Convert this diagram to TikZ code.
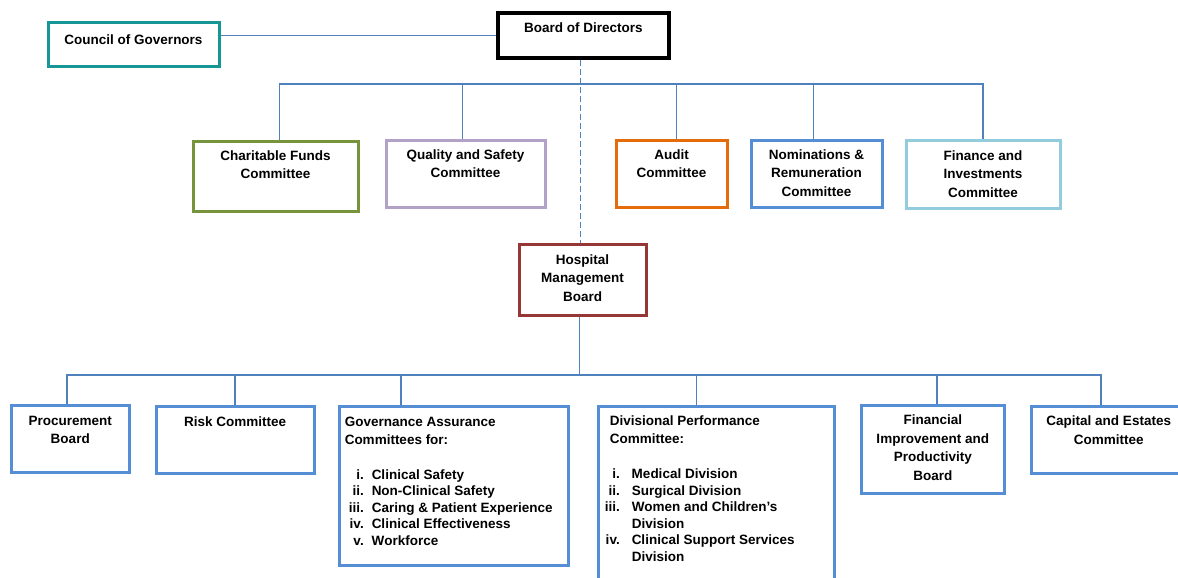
\documentclass[tikz,border=0pt]{standalone}
\usepackage{fontspec}
\setmainfont{Liberation Sans}
\usepackage{tikz}
\usetikzlibrary{calc}
\definecolor{org-teal}{RGB}{23, 150, 150}
\definecolor{org-green}{RGB}{119, 147, 60}
\definecolor{org-lilac}{RGB}{179, 162, 199}
\definecolor{org-orange}{RGB}{228, 108, 10}
\definecolor{org-blue}{RGB}{85, 142, 213}
\definecolor{org-line}{RGB}{79, 129, 189}
\definecolor{org-aqua}{RGB}{147, 205, 221}
\definecolor{org-red}{RGB}{149, 55, 53}
\newcommand{\boxtext}[4]{\parbox[c][#2][t]{#1}{\vspace*{#3}#4}}
\newcommand{\numitem}[4]{\makebox[#1][r]{#2}\hspace{#3}#4}

\begin{document}
\begin{tikzpicture}[x = 1pt, y = -1pt,
    orgbox/.style = {draw, inner sep = 0pt, anchor = north west,
      font = \bfseries\fontsize{13.5}{18.5}\selectfont},
    upper/.style = {orgbox, line width = 3pt},
    lower/.style = {orgbox, draw = org-blue, line width = 3.5pt},
    link/.style = {org-line, line width = 1.7pt}]
          \useasboundingbox (0, 0) rectangle (1178, 578);
          \clip (0, 0) rectangle (1178, 578);

          \coordinate (top-bus) at (0, 84);
          \coordinate (low-bus) at (0, 375);

          \node[upper, draw = org-teal] (cog) at (46.5, 21.5)
            {\boxtext{171pt}{44pt}{11.7pt}{\centering Council of Governors}};
          \node[orgbox, draw = black, line width = 4pt] (bod) at (496, 11)
            {\boxtext{171pt}{45pt}{10.2pt}{\centering Board of Directors}};

          \node[upper, draw = org-green] (cfc) at (191.5, 139.5)
            {\boxtext{165pt}{70pt}{9.7pt}{\centering Charitable Funds\\ Committee}};
          \node[upper, draw = org-lilac] (qsc) at (384.5, 138.5)
            {\boxtext{159pt}{67pt}{9.7pt}{\centering Quality and Safety\\ Committee}};
          \node[upper, draw = org-orange] (aud) at (614.5, 138.5)
            {\boxtext{111pt}{67pt}{9.7pt}{\centering Audit\\ Committee}};
          \node[upper, draw = org-blue] (nrc) at (749.5, 138.5)
            {\boxtext{131pt}{67pt}{9.7pt}{\centering Nominations \&\\ Remuneration\\ Committee}};
          \node[upper, draw = org-aqua] (fic) at (904.5, 138.5)
            {\boxtext{154pt}{68pt}{10.7pt}{\centering Finance and\\ Investments\\ Committee}};

          \node[upper, draw = org-red] (hmb) at (517.5, 242.5)
            {\boxtext{127pt}{71pt}{10.7pt}{\centering Hospital\\ Management\\ Board}};

          \node[lower] (pb) at (9.5, 403.5)
            {\boxtext{118pt}{67pt}{10.7pt}{\centering Procurement\\ Board}};
          \node[lower] (rc) at (154.5, 404.5)
            {\boxtext{158pt}{67pt}{10.7pt}{\centering Risk Committee}};
          \node[lower] (gac) at (337.5, 404.5)
            {\boxtext{229pt}{159pt}{10.7pt}{\raggedright\leftskip = 5.5pt
              \baselineskip = 16.5pt
              Governance Assurance\\[1.5pt]
              Committees for:\\[18.5pt]
              \numitem{19pt}{i.}{8pt}{Clinical Safety}\\
              \numitem{19pt}{ii.}{8pt}{Non-Clinical Safety}\\
              \numitem{19pt}{iii.}{8pt}{Caring \& Patient Experience}\\
              \numitem{19pt}{iv.}{8pt}{Clinical Effectiveness}\\
              \numitem{19pt}{v.}{8pt}{Workforce}\par}};
          \node[lower] (dpc) at (596.5, 404.5)
            {\boxtext{236pt}{186pt}{9.7pt}{\raggedright\leftskip = 11.5pt
              \baselineskip = 16.5pt
              Divisional Performance\\[1.5pt]
              Committee:\\[18.5pt]
              \numitem{10pt}{i.}{12pt}{Medical Division}\\
              \numitem{10pt}{ii.}{12pt}{Surgical Division}\\
              \numitem{10pt}{iii.}{12pt}{Women and Children’s}\\
              \hspace*{22pt}Division\\
              \numitem{10pt}{iv.}{12pt}{Clinical Support Services}\\
              \hspace*{22pt}Division\par}};
          \node[lower] (fip) at (859.5, 403.5)
            {\boxtext{143pt}{88pt}{9.7pt}{\centering Financial\\ Improvement and\\ Productivity\\ Board}};
          \node[lower] (cec) at (1029.5, 404.5)
            {\boxtext{155pt}{67pt}{9.7pt}{\centering Capital and Estates\\ Committee}};

          \coordinate (cfc-top) at ($(cfc.north) + (4, 0)$);
          \coordinate (qsc-top) at ($(qsc.north) + (-3, 0)$);
          \coordinate (aud-top) at ($(aud.north) + (5, 0)$);
          \coordinate (nrc-top) at ($(nrc.north) + (-3, 0)$);
          \coordinate (bod-top) at ($(bod.south) + (-3, 0)$);
          \coordinate (hmb-top) at (bod-top |- hmb.north);
          \coordinate (hmb-low) at ($(hmb.south) + (-3, 0)$);
          \coordinate (pb-top) at ($(pb.north) + (-3, 0)$);
          \coordinate (gac-top) at ($(gac.north west) + (63.5, 0)$);
          \coordinate (dpc-top) at ($(dpc.north west) + (100, 0)$);
          \coordinate (fip-top) at ($(fip.north) + (4, 0)$);
          \coordinate (cec-top) at ($(cec.north west) + (71.5, 0)$);

          \draw[link] (cog.east |- bod.west) -- (bod.west);
          \draw[link, dash pattern = on 6pt off 3pt] (bod-top) -- (hmb-top);

          \draw[link] (cfc-top) |- (fic.north |- top-bus) -- (fic.north);
          \foreach \n in {qsc-top, aud-top, nrc-top}
            \draw[link] (\n) -- (\n |- top-bus);

          \draw[link] (hmb-low) -- (hmb-low |- low-bus);
          \draw[link] (pb-top) |- (cec-top |- low-bus) -- (cec-top);
          \foreach \n in {rc.north, gac-top, dpc-top, fip-top}
            \draw[link] (\n) -- (\n |- low-bus);
        \end{tikzpicture}
\end{document}
